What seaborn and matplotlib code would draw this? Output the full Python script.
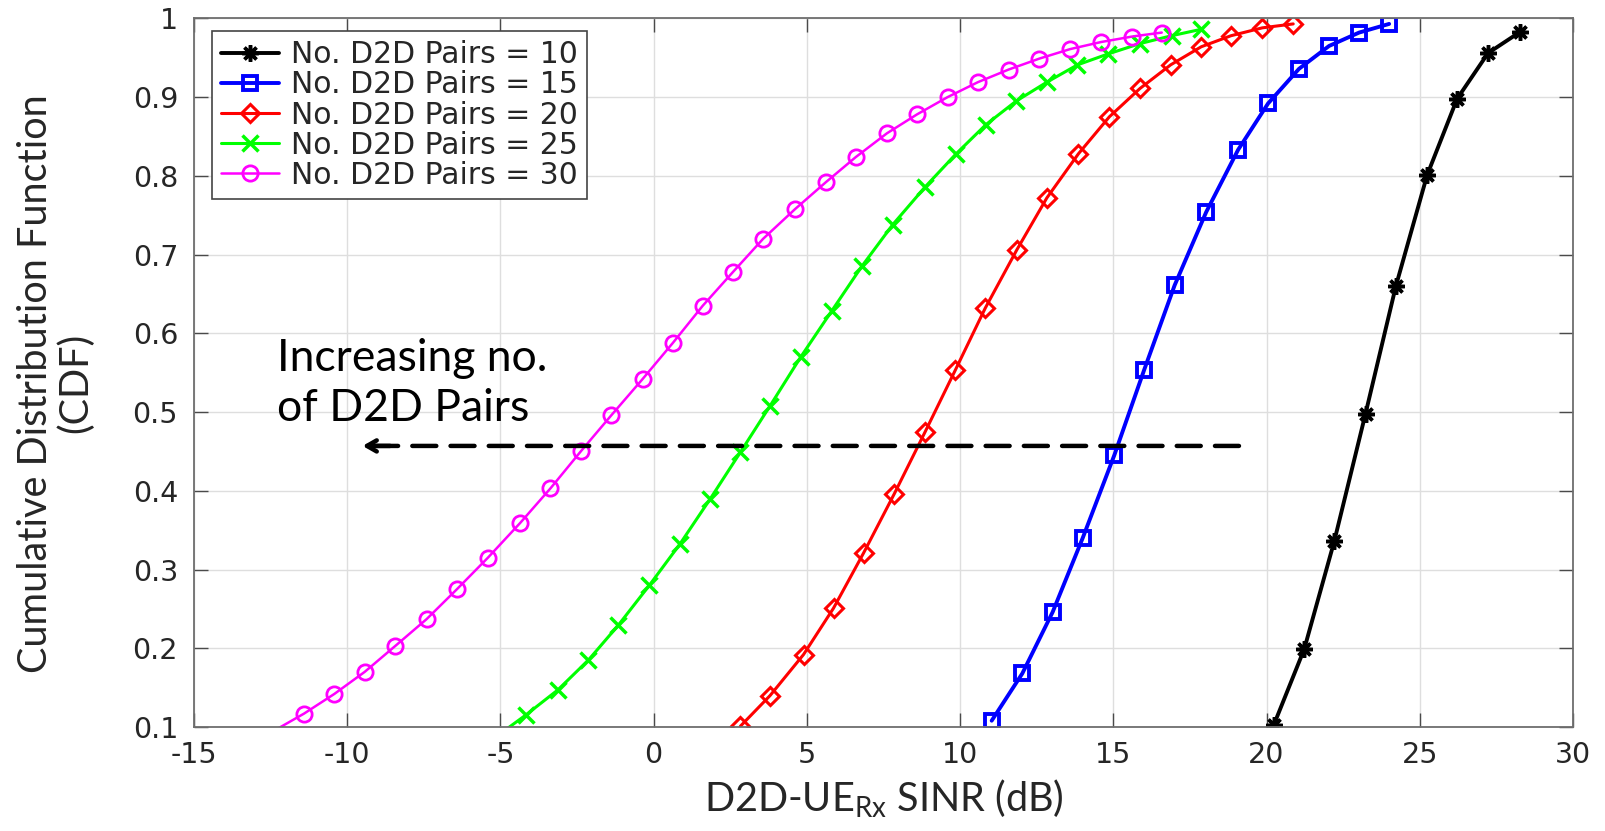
import matplotlib
matplotlib.use("Agg")
import matplotlib.pyplot as plt
import seaborn as sns
import pandas as pd

# ---------------- data ----------------
x_10 = [20.24, 21.23, 22.21, 23.23, 24.22, 25.24, 26.22, 27.23, 28.28]
y_10 = [0.103, 0.199, 0.336, 0.498, 0.660, 0.801, 0.898, 0.956, 0.983]

x_15 = [11.03, 12.03, 13.02, 14.0, 15.03, 16.01, 17.0, 18.03, 19.07, 20.05, 21.06, 22.04, 23.02, 24.0]
y_15 = [0.108, 0.168, 0.246, 0.340, 0.445, 0.554, 0.661, 0.754, 0.833, 0.892, 0.936, 0.965, 0.982, 0.993]

x_20 = [2.83, 3.80, 4.89, 5.87, 6.85, 7.85, 8.86, 9.84, 10.82, 11.85, 12.83, 13.86,
        14.87, 15.87, 16.87, 17.87, 18.84, 19.86, 20.87]
y_20 = [0.101, 0.140, 0.192, 0.251, 0.321, 0.396, 0.475, 0.553, 0.632, 0.706, 0.772, 0.828,
        0.875, 0.911, 0.941, 0.964, 0.978, 0.988, 0.993]

x_25 = [-5.2, -4.18, -3.13, -2.13, -1.16, -0.14, 0.85, 1.85, 2.83, 3.80, 4.80, 5.82, 6.79,
        7.80, 8.86, 9.87, 10.84, 11.83, 12.83, 13.83, 14.84, 15.87, 16.9, 17.85]
y_25 = [0.086, 0.115, 0.147, 0.185, 0.229, 0.280, 0.332, 0.390, 0.449, 0.508, 0.570, 0.629, 0.685,
        0.738, 0.786, 0.828, 0.865, 0.895, 0.919, 0.941, 0.955, 0.968, 0.978, 0.986]

x_30 = [-12.4, -11.41, -10.42, -9.43, -8.43, -7.41, -6.42, -5.41, -4.36, -3.37, -2.38, -1.38,
        -0.36, 0.63, 1.6, 2.59, 3.57, 4.62, 5.62, 6.60, 7.61, 8.59, 9.59, 10.58, 11.58,
        12.59, 13.59, 14.60, 15.62, 16.58]
y_30 = [0.095, 0.117, 0.142, 0.170, 0.203, 0.237, 0.275, 0.315, 0.359, 0.403, 0.450, 0.496,
        0.542, 0.588, 0.635, 0.678, 0.720, 0.758, 0.792, 0.824, 0.854, 0.878, 0.900, 0.919, 0.935,
        0.949, 0.961, 0.970, 0.977, 0.982]

labels = ["No. D2D Pairs = 10", "No. D2D Pairs = 15", "No. D2D Pairs = 20",
          "No. D2D Pairs = 25", "No. D2D Pairs = 30"]
xticks = [-15, -10, -5, 0, 5, 10, 15, 20, 25, 30]
yticks = [0.1, 0.2, 0.3, 0.4, 0.5, 0.6, 0.7, 0.8, 0.9, 1.0]
ytick_labels = ["0.1", "0.2", "0.3", "0.4", "0.5", "0.6", "0.7", "0.8", "0.9", "1"]
xtick_labels = ["-15", "-10", "-5", "0", "5", "10", "15", "20", "25", "30"]

series = [(x_10, y_10), (x_15, y_15), (x_20, y_20), (x_25, y_25), (x_30, y_30)]

# ---------------- style ----------------
sns.set_style("white")
plt.rcParams["font.family"] = ["DejaVu Sans"]
plt.rcParams["mathtext.fontset"] = "custom"
plt.rcParams["mathtext.rm"] = "Lato"
plt.rcParams["mathtext.it"] = "Lato:italic"

colors = ["#000000", "#0000ff", "#ff0000", "#00ff00", "#ff00ff"]
markers = [(8, 2, 0), "s", "D", "x", "o"]
msizes = [12, 10, 9, 11, 11]
mews = [2.5, 2.8, 2.2, 2.5, 2.0]
lws = [2.8, 2.8, 2.2, 2.2, 1.8]
mevery = [None, None, None, slice(1, None), slice(1, None)]

fig = plt.figure(figsize=(16.06, 8.31), dpi=100)
ax = fig.add_axes([194 / 1606, 1 - 727 / 831, (1573 - 194) / 1606, (727 - 18.4) / 831])

for (xs, ys), lab, c, m, ms, mew, lw, me in zip(series, labels, colors, markers, msizes, mews, lws, mevery):
    df = pd.DataFrame({"x": xs, "y": ys})
    sns.lineplot(data=df, x="x", y="y", ax=ax, color=c, label=lab, sort=False,
                 marker=m, markersize=ms, markeredgewidth=mew, markeredgecolor=c,
                 markerfacecolor="none" if m not in [(8, 2, 0), "x"] else c,
                 linewidth=lw, errorbar=None, markevery=me)

ax.set_xlim(-15, 30)
ax.set_ylim(0.1, 1.0)
ax.set_xticks(xticks)
ax.set_xticklabels(xtick_labels)
ax.set_yticks(yticks)
ax.set_yticklabels(ytick_labels)
ax.grid(True, color="#dedede", linewidth=1.0)
ax.set_axisbelow(True)
for s in ax.spines.values():
    s.set_visible(True)
    s.set_color("#6e6e6e")
    s.set_linewidth(1.3)
ax.tick_params(axis="both", which="both", direction="in", length=10, width=1.0,
               color="#4a4a4a", labelsize=20.5, labelcolor="#262626",
               top=True, right=True, bottom=True, left=True)
ax.tick_params(axis="x", pad=10)
ax.tick_params(axis="y", pad=11.5)

ax.set_xlabel("D2D-UE$_{\\mathrm{Rx}}$ SINR (dB)", fontfamily="Lato", fontsize=28.5, labelpad=6)
ax.set_ylabel("Cumulative Distribution Function\n(CDF)", fontfamily="Lato", fontsize=28.5,
              linespacing=1.1)
ax.yaxis.set_label_coords(-0.072, 0.485)

leg = ax.legend(loc="upper left", bbox_to_anchor=(0.013, 0.982), borderaxespad=0,
                fontsize=21.5, frameon=True, fancybox=False, framealpha=1, edgecolor="#444444",
                handlelength=1.95, handletextpad=0.4, labelspacing=0.04, borderpad=0.3,
                numpoints=1)
leg.get_frame().set_linewidth(1.2)

# annotation: dashed arrow + text
ax.annotate("", xy=(-9.5, 0.457), xytext=(19.1, 0.457),
            arrowprops=dict(arrowstyle="-", linestyle=(0, (5.4, 3.2)), lw=3.2, color="black",
                            shrinkA=0, shrinkB=0))
ax.annotate("", xy=(-9.5, 0.457), xytext=(-8.6, 0.457),
            arrowprops=dict(arrowstyle="->,head_length=0.7,head_width=0.4", lw=3.2, color="black",
                            shrinkA=0, shrinkB=0))
ax.text(-12.3, 0.489, "Increasing no.\nof D2D Pairs", fontfamily="Lato", fontsize=32,
        ha="left", va="baseline", linespacing=1.25, color="black")

fig.savefig("out.png", dpi=100, facecolor="white")
